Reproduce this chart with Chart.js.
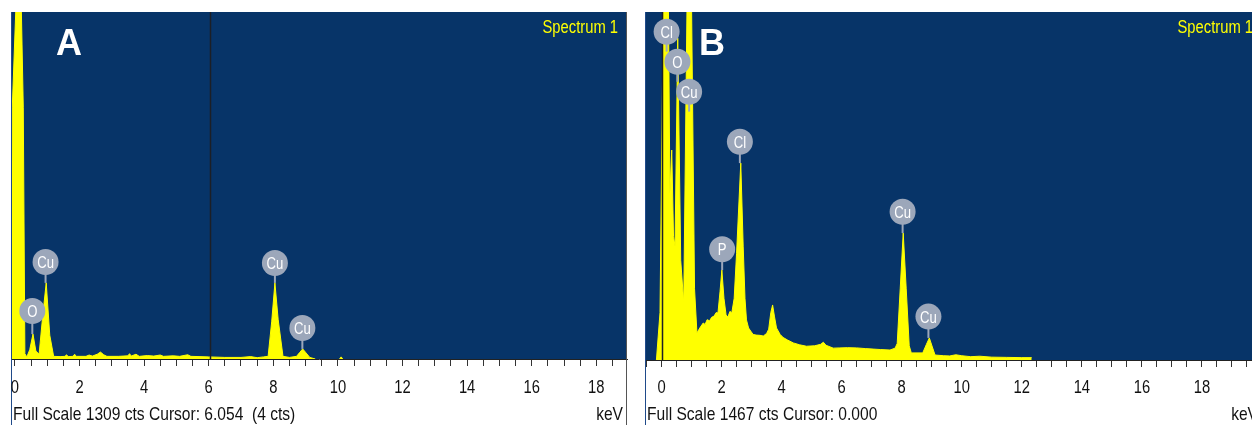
<!DOCTYPE html>
<html>
<head>
<meta charset="utf-8">
<title>EDS spectra A / B</title>
<script src="https://cdn.jsdelivr.net/npm/chart.js@4.4.1/dist/chart.umd.min.js"></script>
<style>
  html, body { margin: 0; padding: 0; background: #fff; overflow: hidden; width: 1252px; height: 425px; }
  canvas { position: absolute; top: 0; }
  #chartA { left: 0; }
  #chartB { left: 634px; }
</style>
</head>
<body>
<canvas id="chartA" width="640" height="425"></canvas>
<canvas id="chartB" width="640" height="425"></canvas>
<script>
/* ── Data: panel A ── */
const aKeV = [-0.12, -0.11, -0.08, 0.03, 0.05, 0.18, 0.2, 0.26, 0.31, 0.37, 0.46, 0.56, 0.65, 0.75, 0.86, 0.97, 1.08, 1.2,
  1.4, 1.55, 1.6, 1.65, 1.8, 1.85, 1.9, 2.2, 2.3, 2.4, 2.55, 2.65, 2.75, 2.85, 3.2, 3.5, 3.55, 3.6, 3.75, 3.85,
  4.1, 4.3, 4.5, 4.6, 4.9, 5.1, 5.35, 5.45, 6.0, 6.5, 7.0, 7.3, 7.5, 7.7, 7.84, 7.95, 8.05, 8.15, 8.3, 8.5,
  8.72, 8.82, 8.91, 9.0, 9.13, 9.3, 9.6, 10.05, 10.1, 10.15];
const aCts = [0, 200, 950, 1320, 3000, 3000, 1320, 950, 20, 8, 35, 94, 30, 18, 160, 287, 90, 10,
  9, 10, 16, 9, 10, 18, 10, 10, 15, 11, 18, 26, 16, 10, 10, 12, 20, 11, 18, 10,
  13, 11, 15, 10, 12, 10, 16, 10, 8, 6, 6, 9, 5, 8, 10, 140, 287, 150, 10, 6,
  10, 25, 38, 25, 6, 0, null, 0, 8, 0];

const aPeakNames    = ['O', 'Cu', 'Cu', 'Cu'];
const aPeakKeV      = [0.54, 0.95, 8.05, 8.9];
const aPeakLabelCts = [181, 366, 362, 117];
const aPeakTopCts   = [94, 287, 287, 38];

/* ── Data: panel B ── */
const bKeV = [-0.17, -0.05, 0.06, 0.08, 0.2, 0.23, 0.28, 0.34, 0.4, 0.45, 0.54, 0.64, 0.74, 0.85, 0.88, 0.97, 1.0, 1.1, 1.18,
  1.3, 1.39, 1.45, 1.52, 1.6, 1.67, 1.75, 1.82, 1.88, 1.95, 2.01, 2.08, 2.15, 2.21, 2.28, 2.34, 2.42, 2.5, 2.64,
  2.72, 2.78, 2.83, 2.9, 2.97, 3.05, 3.15, 3.28, 3.39, 3.5, 3.57, 3.64, 3.7, 3.76, 3.83, 3.95, 4.05, 4.2, 4.39,
  4.6, 4.83, 5.1, 5.3, 5.39, 5.48, 5.72, 5.94, 6.2, 6.5, 6.8, 7.05, 7.3, 7.61, 7.78, 7.85, 7.95, 8.05, 8.15,
  8.25, 8.32, 8.7, 8.82, 8.92, 9.02, 9.11, 9.4, 9.6, 9.8, 10.0, 10.3, 10.6, 11.0, 11.5, 12.0, 12.33];
const bCts = [0, 200, 1500, 3000, 3000, 1500, 700, 885, 520, 480, 1357, 420, 240, 1500, 3000, 3000, 1500, 300, 114,
  140, 156, 150, 170, 165, 180, 185, 200, 198, 290, 379, 260, 190, 181, 205, 198, 260, 450, 830,
  480, 260, 169, 135, 122, 108, 105, 104, 101, 112, 130, 200, 232, 185, 135, 108, 95, 84, 72,
  64, 58, 60, 66, 75, 62, 50, 51, 52, 51, 48, 46, 44, 42, 50, 70, 300, 535, 300,
  60, 30, 30, 65, 93, 55, 21, 18, 17, 22, 18, 14, 16, 12, 11, 10, 10];

const bPeakNames    = ['Cl', 'O', 'Cu', 'Cl', 'P', 'Cu', 'Cu'];
const bPeakKeV      = [0.17, 0.53, 0.92, 2.61, 2.02, 8.03, 8.89];
const bPeakLabelCts = [1384, 1257, 1131, 920, 467, 625, 183];
const bPeakTopCts   = [1300, 1173, 1047, 830, 379, 535, 93];

/* ── Axis ── */
const majorTicks = [0, 2, 4, 6, 8, 10, 12, 14, 16, 18, 20];

const SANS   = '"Liberation Sans", Arial, sans-serif';
const BLUE   = '#073468';
const YELLOW = '#ffff00';
const BADGE  = '#9ca7ba';
const SQUEEZE = 0.82;   // the instrument font is a narrow sans

// narrow text: Liberation Sans squeezed horizontally
function narrowText(ctx, text, x, y, size, align) {
  ctx.save();
  ctx.font = size + 'px ' + SANS;
  ctx.textAlign = align;
  ctx.translate(x, y);
  ctx.scale(SQUEEZE, 1);
  ctx.fillText(text, 0, 0);
  ctx.restore();
}

/* ── Decorations: background, cursor, peak badges, captions ── */
const spectrumDecor = {
  id: 'spectrumDecor',
  beforeDraw(chart) {
    const { ctx, chartArea: a } = chart;
    ctx.save();
    ctx.fillStyle = BLUE;
    ctx.fillRect(a.left, a.top, a.right - a.left, a.bottom - a.top);
    ctx.restore();
  },
  afterDatasetsDraw(chart, args, o) {
    const { ctx, chartArea: a, scales: { x, y } } = chart;
    ctx.save();

    // cursor line
    const cx = Math.round(x.getPixelForValue(o.cursor)) + 0.5;
    ctx.strokeStyle = '#1c1f26';
    ctx.lineWidth = 1.5;
    ctx.beginPath();
    ctx.moveTo(cx, a.top);
    ctx.lineTo(cx, a.bottom);
    ctx.stroke();

    // peak badges
    o.names.forEach((name, i) => {
      const px = x.getPixelForValue(o.keV[i]);
      const cy = y.getPixelForValue(o.labelCts[i]);
      const ty = y.getPixelForValue(o.topCts[i]);
      ctx.strokeStyle = BADGE;
      ctx.lineWidth = 2;
      ctx.beginPath();
      ctx.moveTo(px, cy + 10);
      ctx.lineTo(px, ty);
      ctx.stroke();
      ctx.fillStyle = BADGE;
      ctx.beginPath();
      ctx.arc(px, cy, 13, 0, Math.PI * 2);
      ctx.fill();
      ctx.fillStyle = '#fff';
      ctx.textBaseline = 'alphabetic';
      narrowText(ctx, name, px, cy + 6, 16, 'center');
    });
    ctx.restore();
  },
  afterDraw(chart, args, o) {
    const { ctx, chartArea: a, scales: { x } } = chart;
    const h = chart.height;
    ctx.save();

    // frame lines
    ctx.lineWidth = 1;
    ctx.strokeStyle = '#1f4a8a';
    ctx.beginPath();
    ctx.moveTo(a.left + 0.5, a.top);
    ctx.lineTo(a.left + 0.5, h);
    ctx.stroke();
    ctx.strokeStyle = '#555';
    ctx.beginPath();
    ctx.moveTo(a.right - 0.5, a.top);
    ctx.lineTo(a.right - 0.5, h);
    ctx.stroke();

    ctx.textBaseline = 'alphabetic';

    // tick labels, from the axis' own ticks
    ctx.fillStyle = '#111';
    x.ticks.forEach((t) => {
      if (!majorTicks.includes(t.value)) return;
      narrowText(ctx, String(t.value), x.getPixelForValue(t.value), 393, 18, 'center');
    });

    // "Spectrum 1"
    ctx.fillStyle = YELLOW;
    narrowText(ctx, 'Spectrum 1', a.right - 9, a.top + 21, 18, 'right');

    // panel letter
    ctx.fillStyle = '#fff';
    ctx.font = 'bold 36px ' + SANS;
    ctx.textAlign = 'left';
    ctx.fillText(o.letter, a.left + o.letterDx, 55);

    // footer
    ctx.fillStyle = '#111';
    narrowText(ctx, o.footer, a.left + 2, 420, 19, 'left');
    narrowText(ctx, 'keV', a.right - 4, 420, 19, 'right');
    ctx.restore();
  },
};

function makeSpectrum(canvasId, keV, cts, opts) {
  const points = keV.map((x, i) => ({ x, y: cts[i] }));
  return new Chart(document.getElementById(canvasId), {
    type: 'line',
    data: {
      datasets: [{
        data: points,
        borderColor: YELLOW,
        backgroundColor: YELLOW,
        borderWidth: 1,
        pointRadius: 0,
        tension: 0,
        fill: 'origin',
        spanGaps: false,
        clip: 0,
      }],
    },
    options: {
      responsive: false,
      animation: false,
      devicePixelRatio: 1,
      layout: { padding: { left: 11, right: opts.padRight, top: 12, bottom: 0 } },
      plugins: {
        legend: { display: false },
        tooltip: { enabled: false },
        spectrumDecor: opts.decor,
      },
      scales: {
        x: {
          type: 'linear',
          min: opts.min,
          max: opts.max,
          afterFit: (s) => { s.height = opts.axisH; s.paddingLeft = 0; s.paddingRight = 0; },
          grid: { drawOnChartArea: false, drawTicks: true, tickLength: 7, color: '#333', lineWidth: 1 },
          border: { display: true, color: '#222', width: 1 },
          ticks: {
            display: false,
            stepSize: 0.5,
            includeBounds: false,
            autoSkip: false,
            maxRotation: 0,
          },
        },
        y: { display: false, min: 0, max: opts.fullScale },
      },
    },
    plugins: [spectrumDecor],
  });
}

makeSpectrum('chartA', aKeV, aCts, {
  min: -0.12, max: 18.95, fullScale: 1309, padRight: 13, axisH: 66,
  decor: {
    cursor: 6.054, letter: 'A', letterDx: 45,
    footer: 'Full Scale 1309 cts Cursor: 6.054  (4 cts)',
    names: aPeakNames, keV: aPeakKeV, labelCts: aPeakLabelCts, topCts: aPeakTopCts,
  },
});

makeSpectrum('chartB', bKeV, bCts, {
  min: -0.55, max: 20, fullScale: 1467, padRight: 12, axisH: 65,
  decor: {
    cursor: 0, letter: 'B', letterDx: 54,
    footer: 'Full Scale 1467 cts Cursor: 0.000',
    names: bPeakNames, keV: bPeakKeV, labelCts: bPeakLabelCts, topCts: bPeakTopCts,
  },
});
</script>
</body>
</html>
